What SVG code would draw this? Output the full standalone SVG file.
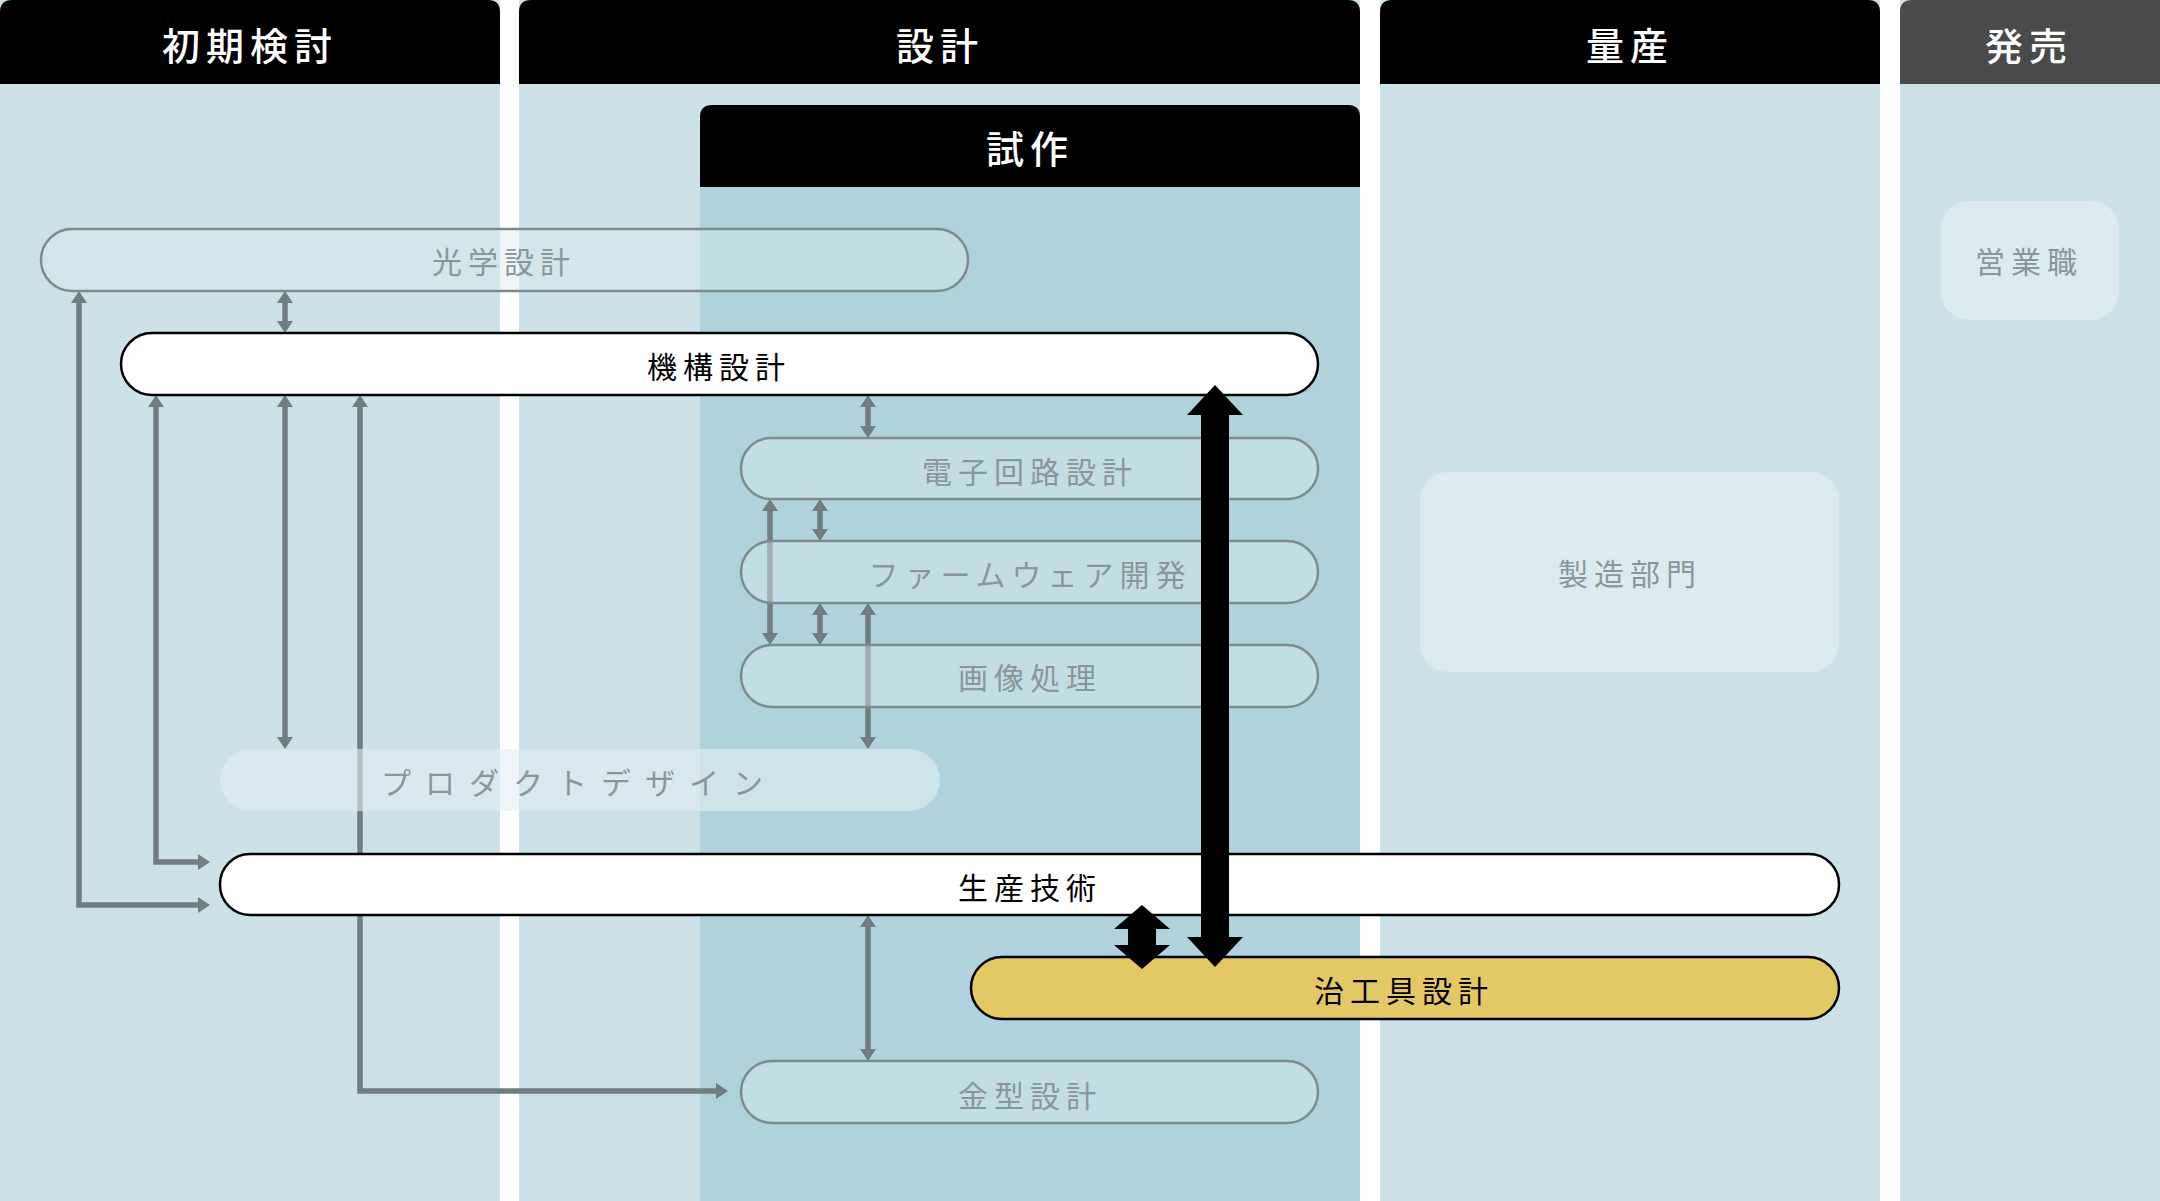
<svg xmlns="http://www.w3.org/2000/svg" width="2160" height="1201" viewBox="0 0 2160 1201">
<defs>
<style>
.hd{font-family:"Noto Sans CJK JP","Noto Sans",sans-serif;font-size:38px;fill:#fff;text-anchor:middle;dominant-baseline:central;letter-spacing:6px;font-weight:500}
.lb{font-family:"Noto Sans CJK JP","Noto Sans",sans-serif;font-size:30px;text-anchor:middle;dominant-baseline:central;letter-spacing:6px}
.g{fill:#8a979a}
.k{fill:#000}
.gl{stroke:#707e82;stroke-width:5.5;fill:none;marker-start:url(#ga);marker-end:url(#ga)}
.gl1{stroke:#707e82;stroke-width:5.5;fill:none;marker-end:url(#ga)}
.bar-g{fill:#dcebf0;fill-opacity:0.45;stroke:#7f8b8e;stroke-width:2.5}
.bar-w{fill:#fff;stroke:#000;stroke-width:2.5}
</style>
<marker id="ga" markerUnits="userSpaceOnUse" markerWidth="14" markerHeight="16" refX="0" refY="8" orient="auto-start-reverse" viewBox="0 0 14 16"><path d="M0,0 L12,8 L0,16z" fill="#707e82"/></marker>
<marker id="ka" markerUnits="userSpaceOnUse" markerWidth="30" markerHeight="56" refX="0" refY="28" orient="auto-start-reverse" viewBox="0 0 30 56"><path d="M0,0 L30,28 L0,56z" fill="#000"/></marker>
<marker id="kb" markerUnits="userSpaceOnUse" markerWidth="24" markerHeight="56" refX="0" refY="28" orient="auto-start-reverse" viewBox="0 0 24 56"><path d="M0,0 L24,28 L0,56z" fill="#000"/></marker>
</defs>
<g id="columns">
<rect x="0" y="0" width="500" height="1201" fill="#cce2e8"/>
<path d="M0,84 V12 Q0,0 12,0 H488 Q500,0 500,12 V84z" fill="#000"/>
<rect x="519" y="0" width="841" height="1201" fill="#cce2e8"/>
<path d="M519,84 V12 Q519,0 531,0 H1348 Q1360,0 1360,12 V84z" fill="#000"/>
<rect x="700" y="187" width="660" height="1014" fill="#afd2dc"/>
<path d="M700,187 V117 Q700,105 712,105 H1348 Q1360,105 1360,117 V187z" fill="#000"/>
<rect x="1380" y="0" width="500" height="1201" fill="#cce2e8"/>
<path d="M1380,84 V12 Q1380,0 1392,0 H1868 Q1880,0 1880,12 V84z" fill="#000"/>
<rect x="1900" y="0" width="260" height="1201" fill="#cce2e8"/>
<path d="M1900,84 V12 Q1900,0 1912,0 H2160 V84z" fill="#4a4a4a"/>
<text class="hd" x="250" y="43">初期検討</text>
<text class="hd" x="940" y="43">設計</text>
<text class="hd" x="1630" y="43">量産</text>
<text class="hd" x="2029" y="43">発売</text>
<text class="hd" x="1030" y="146">試作</text>
</g>
<g id="connectors">
<path class="gl" d="M285,303 V321"/>
<path class="gl" d="M285,407 V737"/>
<path class="gl" d="M156,407 V862 H198"/>
<path class="gl" d="M79,303 V905 H198"/>
<path class="gl" d="M360,407 V1091 H716"/>
<path class="gl" d="M868,407 V426"/>
<path class="gl" d="M820,511 V529"/>
<path class="gl" d="M820,615 V633"/>
<path class="gl" d="M770,511 V633"/>
<path class="gl" d="M868,615 V737"/>
<path class="gl" d="M868,927 V1049"/>
</g>
<g id="n-optical"><rect class="bar-g" x="41" y="229" width="927" height="62" rx="31"/><text class="lb g" x="504" y="260">光学設計</text></g>
<g id="n-mech"><rect class="bar-w" x="121" y="333" width="1197" height="62" rx="31"/><text class="lb k" x="719" y="365">機構設計</text></g>
<g id="n-elec"><rect class="bar-g" x="741" y="438" width="577" height="61" rx="30"/><text class="lb g" x="1030" y="470">電子回路設計</text></g>
<g id="n-fw"><rect class="bar-g" x="741" y="541" width="577" height="62" rx="31"/><text class="lb g" x="1030" y="573">ファームウェア開発</text></g>
<g id="n-img"><rect class="bar-g" x="741" y="645" width="577" height="62" rx="31"/><text class="lb g" x="1030" y="676">画像処理</text></g>
<g id="n-pd"><rect x="220" y="749" width="720" height="62" rx="31" fill="#e3eff3" fill-opacity="0.6"/><text class="lb g" x="579" y="781" style="letter-spacing:14px">プロダクトデザイン</text></g>
<g id="n-prod"><rect class="bar-w" x="220" y="854" width="1619" height="61" rx="30"/><text class="lb k" x="1030" y="886">生産技術</text></g>
<g id="n-jig"><rect x="971" y="957" width="868" height="62" rx="31" fill="#e5c866" stroke="#000" stroke-width="2.5"/><text class="lb k" x="1404" y="989">治工具設計</text></g>
<g id="n-mold"><rect class="bar-g" x="741" y="1061" width="577" height="62" rx="31"/><text class="lb g" x="1030" y="1094">金型設計</text></g>
<g id="n-mfg"><rect x="1420" y="472" width="419" height="200" rx="28" fill="#dcebf0"/><text class="lb g" x="1630" y="572">製造部門</text></g>
<g id="n-sales"><rect x="1941" y="201" width="178" height="119" rx="28" fill="#dcebf0"/><text class="lb g" x="2029" y="260">営業職</text></g>
<g id="connectors-black">
<path d="M1215,415 V937" stroke="#000" stroke-width="28" marker-start="url(#ka)" marker-end="url(#ka)"/>
<path d="M1142,929 V945" stroke="#000" stroke-width="28" marker-start="url(#kb)" marker-end="url(#kb)"/>
</g>
</svg>
